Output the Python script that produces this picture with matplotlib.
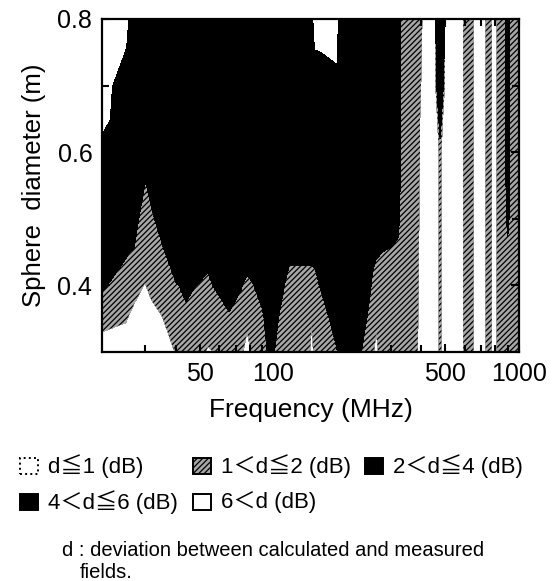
import matplotlib
matplotlib.use("Agg")
import matplotlib.pyplot as plt
import numpy as np
from matplotlib.patches import Rectangle

plt.rcParams['font.family'] = ['Liberation Sans', 'Noto Sans CJK JP', 'DejaVu Sans']
plt.rcParams['hatch.color'] = 'black'
plt.rcParams['hatch.linewidth'] = 0.9

# sphere diameters (m) of the measurement rows
diameter = [0.30, 0.35, 0.40, 0.45, 0.50, 0.55, 0.60, 0.65, 0.70, 0.75, 0.80]

# measured frequencies (MHz) and deviation d (dB) at each diameter, bottom -> top
freq = [20, 25, 27, 28.6, 30, 31.8, 35, 40, 44, 50, 54, 66, 74, 78, 82, 90,
        96, 100, 105, 111, 116, 138, 143, 148, 153, 168, 180, 185, 225, 241,
        253, 262, 270, 300, 321, 330, 370, 410, 455, 462, 477, 492, 501, 580,
        605, 640, 665, 720, 742, 763, 785, 800, 822, 880, 900, 920, 1000]

dev = [
    [0.25, 1.5, 2.13, 3.5, 3.5, 4.0, 4.5, 7.0, 7.5, 8.0, 8.0],   # 20
    [0.5, 1.07, 1.5, 2.13, 3.5, 3.5, 3.5, 3.5, 3.5, 5.8, 6.8],   # 25
    [0.5, 0.7, 1.38, 1.8, 3.8, 3.5, 3.5, 3.5, 3.5, 3.5, 3.5],    # 27
    [0.4, 0.5, 1.13, 1.5, 1.5, 3.58, 3.5, 3.5, 3.5, 3.5, 3.5],   # 28.6
    [0.4, 0.5, 0.95, 1.5, 1.5, 1.8, 3.5, 3.5, 3.5, 3.5, 3.5],    # 30
    [0.4, 0.5, 1.39, 1.5, 1.5, 2.89, 3.5, 3.5, 3.5, 3.5, 3.5],   # 31.8
    [0.5, 0.95, 1.45, 1.5, 3.2, 3.5, 3.5, 3.5, 3.5, 3.5, 3.5],   # 35
    [1.05, 1.5, 1.8, 3.8, 3.5, 3.5, 3.5, 3.5, 3.5, 3.5, 3.5],    # 40
    [1.5, 1.5, 2.5, 3.5, 3.5, 3.5, 3.5, 3.5, 3.5, 3.5, 3.5],     # 44
    [1.3, 1.5, 1.8, 3.8, 3.5, 3.5, 3.5, 3.5, 3.5, 3.5, 3.5],     # 50
    [0.9, 1.5, 1.5, 2.75, 3.5, 3.5, 3.5, 3.5, 3.5, 3.5, 3.5],    # 54
    [1.3, 1.5, 4.0, 3.5, 3.5, 3.5, 3.5, 3.5, 3.5, 3.5, 3.5],     # 66
    [1.3, 1.5, 2.07, 3.5, 3.5, 3.5, 3.5, 3.5, 3.5, 3.5, 3.5],    # 74
    [0.25, 1.5, 1.5, 3.17, 3.5, 3.5, 3.5, 3.5, 3.5, 3.5, 3.5],   # 78
    [1.3, 1.5, 1.8, 3.8, 3.5, 3.5, 3.5, 3.5, 3.5, 3.5, 3.5],     # 82
    [1.3, 1.5, 3.17, 3.5, 3.5, 3.5, 3.5, 3.5, 3.5, 3.5, 3.5],    # 90
    [2.3, 3.5, 3.5, 3.5, 3.5, 3.5, 3.5, 3.5, 3.5, 3.5, 3.5],     # 96
    [2.1, 3.5, 3.5, 3.5, 3.5, 3.5, 3.5, 3.5, 3.5, 3.5, 3.5],     # 100
    [1.5, 1.9, 3.5, 3.5, 3.5, 3.5, 3.5, 3.5, 3.5, 3.5, 3.5],     # 105
    [1.5, 1.5, 1.95, 3.0, 3.5, 3.5, 3.5, 3.5, 3.5, 3.5, 3.5],    # 111
    [1.5, 1.5, 1.5, 2.33, 3.5, 3.5, 3.5, 3.5, 3.5, 3.5, 3.5],    # 116
    [1.5, 1.5, 1.5, 2.33, 3.5, 3.5, 3.5, 3.5, 3.5, 3.5, 3.5],    # 138
    [0.6, 1.1, 1.5, 2.33, 3.5, 3.5, 3.5, 3.5, 3.5, 3.5, 3.5],    # 143
    [1.5, 1.5, 1.5, 2.5, 3.5, 3.5, 3.5, 3.5, 5.0, 5.8, 7.8],     # 148
    [1.5, 1.5, 1.95, 3.0, 3.5, 3.5, 3.5, 3.5, 5.0, 5.9, 7.5],    # 153
    [1.5, 1.95, 3.0, 3.5, 3.5, 3.5, 3.5, 3.5, 5.0, 6.16, 7.5],   # 168
    [1.8, 2.8, 3.5, 3.5, 3.5, 3.5, 3.5, 3.5, 5.0, 6.43, 7.5],    # 180
    [2.3, 3.5, 3.5, 3.5, 3.5, 3.5, 3.5, 3.5, 3.5, 3.5, 3.5],     # 185
    [2.1, 3.5, 3.5, 3.5, 3.5, 3.5, 3.5, 3.5, 3.5, 3.5, 3.5],     # 225
    [1.5, 1.9, 3.5, 3.5, 3.5, 3.5, 3.5, 3.5, 3.5, 3.5, 3.5],     # 241
    [1.5, 1.5, 1.5, 2.75, 3.5, 3.5, 3.5, 3.5, 3.5, 3.5, 3.5],    # 253
    [0.25, 1.5, 1.5, 2.13, 3.5, 3.5, 3.5, 3.5, 3.5, 3.5, 3.5],   # 262
    [1.5, 1.5, 1.5, 2.06, 3.5, 3.5, 3.5, 3.5, 3.5, 3.5, 3.5],    # 270
    [1.5, 1.5, 1.5, 1.8, 3.23, 3.5, 3.5, 3.5, 3.5, 3.5, 3.5],    # 300
    [1.5, 1.5, 1.5, 1.5, 2.75, 3.5, 3.5, 3.5, 3.5, 3.5, 3.5],    # 321
    [1.5, 1.5, 1.5, 1.5, 1.5, 1.5, 1.5, 1.5, 1.5, 1.5, 1.5],     # 330
    [1.5, 1.5, 1.5, 1.5, 1.5, 1.5, 1.5, 1.5, 1.5, 1.5, 1.5],     # 370
    [0.3, 0.4, 0.5, 0.5, 0.6, 0.6, 0.7, 0.7, 0.8, 0.85, 0.9],    # 410
    [0.5, 0.5, 0.5, 0.5, 0.5, 0.5, 0.5, 0.5, 0.5, 0.5, 0.5],     # 455
    [0.5, 0.5, 0.5, 0.5, 0.5, 0.5, 0.5, 0.5, 2.0, 3.0, 3.5],     # 462
    [1.3, 1.3, 1.3, 1.3, 1.3, 1.3, 1.3, 3.0, 3.5, 3.5, 3.5],     # 477
    [0.5, 0.5, 0.5, 0.5, 0.5, 0.5, 0.5, 0.5, 2.0, 3.0, 3.5],     # 492
    [0.5, 0.5, 0.5, 0.5, 0.5, 0.5, 0.5, 0.5, 0.5, 0.5, 0.5],     # 501
    [0.5, 0.5, 0.5, 0.5, 0.5, 0.5, 0.5, 0.5, 0.5, 0.5, 0.5],     # 580
    [1.5, 1.5, 1.5, 1.5, 1.5, 1.5, 1.5, 1.5, 1.5, 1.5, 1.5],     # 605
    [1.5, 1.5, 1.5, 1.5, 1.5, 1.5, 1.5, 1.5, 1.5, 1.5, 1.5],     # 640
    [0.5, 0.5, 0.5, 0.5, 0.5, 0.5, 0.5, 0.5, 0.5, 0.5, 0.5],     # 665
    [0.5, 0.5, 0.5, 0.5, 0.5, 0.5, 0.5, 0.5, 0.5, 0.5, 0.5],     # 720
    [1.5, 1.5, 1.5, 1.5, 1.5, 1.5, 1.5, 1.5, 1.5, 1.5, 1.5],     # 742
    [1.5, 1.5, 1.5, 1.5, 1.5, 1.5, 1.5, 1.5, 1.5, 1.5, 1.5],     # 763
    [0.5, 0.5, 0.5, 0.5, 0.5, 0.5, 0.5, 0.5, 0.5, 0.5, 0.5],     # 785
    [0.5, 0.5, 0.5, 0.5, 0.5, 0.5, 0.5, 0.5, 0.5, 0.5, 0.5],     # 800
    [1.5, 1.5, 1.5, 1.5, 1.5, 1.5, 1.5, 1.5, 1.5, 1.5, 1.5],     # 822
    [1.5, 1.5, 1.5, 1.5, 1.5, 1.5, 1.5, 1.5, 1.5, 1.5, 1.5],     # 880
    [1.5, 1.5, 1.5, 1.5, 2.6, 3.5, 3.5, 3.5, 3.5, 3.5, 3.5],     # 900
    [1.5, 1.5, 1.5, 1.5, 1.5, 1.5, 1.5, 1.5, 1.5, 1.5, 1.5],     # 920
    [1.5, 1.5, 1.5, 1.5, 1.5, 1.5, 1.5, 1.5, 1.5, 1.5, 1.5],     # 1000
]

levels = [0, 1, 2, 4, 6, 10]
fill = ['white', '#a6a6a6', 'black', 'black', 'white']
hatch = [None, '//////', None, None, None]
legend_labels = ['d≦1 (dB)', '1＜d≦2 (dB)', '2＜d≦4 (dB)', '4＜d≦6 (dB)', '6＜d (dB)']

W, H = 555, 581
fig = plt.figure(figsize=(W / 100, H / 100), dpi=100)
ax = fig.add_axes([102 / W, 1 - 352 / H, (519 - 102) / W, (352 - 19) / H])

Z = np.array(dev).T
ax.contourf(freq, diameter, Z, levels=levels, colors=fill, hatches=hatch)

ax.set_xscale('log')
ax.set_xlim(20, 1000)
ax.set_ylim(0.3, 0.8)
ax.set_xticks([50, 100, 500, 1000])
ax.set_xticklabels(['50', '100', '500', '1000'])
ax.set_xticks([30, 40, 60, 70, 80, 90, 200, 300, 400, 600, 700, 800, 900], minor=True)
ax.set_yticks([0.4, 0.6, 0.8])
ax.set_yticklabels(['0.4', '0.6', '0.8'])
ax.set_yticks([0.5, 0.7], minor=True)
ax.tick_params(which='both', direction='in', top=True, right=True, width=1.5,
               labelsize=18, color='black')
ax.tick_params(which='major', length=6, pad=7)
ax.tick_params(which='minor', length=5)
for s in ax.spines.values():
    s.set_linewidth(1.6)

ax.set_xlabel('Frequency (MHz)', fontsize=19, labelpad=9)
ax.set_ylabel('Sphere  diameter (m)', fontsize=18.5, labelpad=8)

# key for the shading, laid out under the axes
def key(x, y, face, label, hatch=None, ls='-'):
    fig.patches.append(Rectangle((x / W, 1 - (y + 8) / H), 18 / W, 16 / H,
                                 transform=fig.transFigure, facecolor=face,
                                 edgecolor='black', linewidth=1.4, linestyle=ls,
                                 hatch=hatch))
    fig.text((x + 28) / W, 1 - y / H, label, fontsize=16, va='center', ha='left')

key(20, 466, fill[0], legend_labels[0], ls=':')
key(193, 466, fill[1], legend_labels[1], hatch=hatch[1])
key(365, 466, fill[2], legend_labels[2])
key(20, 502, fill[3], legend_labels[3])
key(193, 502, fill[4], legend_labels[4])

fig.text(62 / W, 1 - 551 / H, 'd : deviation between calculated and measured',
         fontsize=14.5, va='center', ha='left')
fig.text(80 / W, 1 - 573 / H, 'fields.', fontsize=14.5, va='center', ha='left')

fig.savefig('out.png', dpi=100)
